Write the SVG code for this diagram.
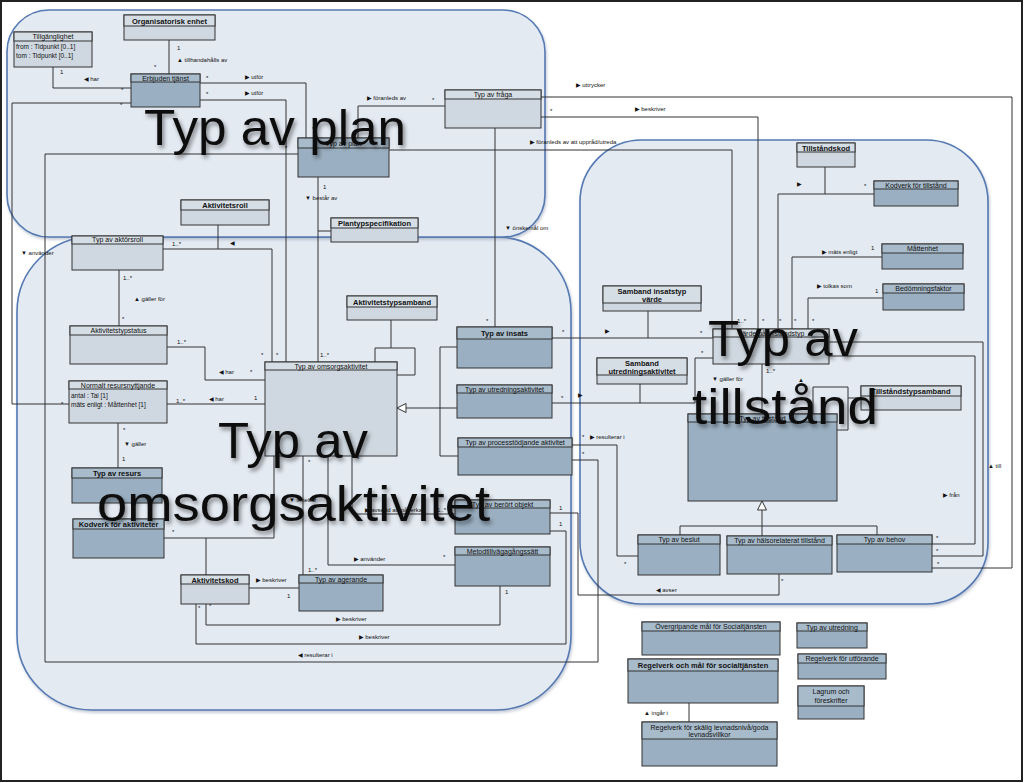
<svg xmlns="http://www.w3.org/2000/svg" width="1024" height="783" viewBox="0 0 1024 783">
<defs>
<style>
.reg{fill:#e4eaf2;stroke:#5479b3;stroke-width:1.6}
.nl{fill:#cfd8e0;stroke:#333;stroke-width:1}
.nd{fill:#9aafc1;stroke:#333;stroke-width:1}
.hl{fill:#d6dee5;stroke:#333;stroke-width:1}
.hd{fill:#a8bbcb;stroke:#333;stroke-width:1}
.t{font-family:"Liberation Sans","DejaVu Sans",sans-serif;font-size:7px;fill:#111;text-anchor:middle}
.b{font-weight:bold;font-size:7.5px}
.a{font-family:"Liberation Sans","DejaVu Sans",sans-serif;font-size:6.5px;fill:#111}
.lb{font-family:"Liberation Sans","DejaVu Sans",sans-serif;font-size:6px;fill:#111}
.c{fill:none;stroke:#333;stroke-width:1;stroke-linejoin:round}
.big{font-family:"Liberation Sans","Open Sans",sans-serif;font-size:50px;fill:#111}
</style>
<filter id="sh" x="-10%" y="-10%" width="120%" height="130%">
<feDropShadow dx="2" dy="3" stdDeviation="2" flood-color="#000" flood-opacity="0.45"/>
</filter>
<filter id="rs" x="-5%" y="-5%" width="110%" height="110%">
<feDropShadow dx="1" dy="2" stdDeviation="1.5" flood-color="#7d8aa0" flood-opacity="0.45"/>
</filter>
</defs>
<rect x="0" y="0" width="1024" height="783" fill="#fff"/>
<rect x="1" y="1" width="1021" height="780" fill="none" stroke="#222" stroke-width="2"/>

<g id="regions">
<rect class="reg" filter="url(#rs)" x="17" y="237" width="554" height="473" rx="75" ry="75"/>
<rect class="reg" filter="url(#rs)" x="7" y="10" width="538" height="227" rx="42" ry="42"/>
<rect class="reg" filter="url(#rs)" x="580" y="140" width="408" height="464" rx="62" ry="62"/>
</g>

<g id="connectors">
<path class="c" d="M169 40V74"/>
<path class="c" d="M53 67V88H131"/>
<path class="c" d="M200 83H306V138"/>
<path class="c" d="M200 100H286V362"/>
<path class="c" d="M131 103H12V404H69"/>
<path class="c" d="M298 154H45V662H598V460H572"/>
<path class="c" d="M318 177V362"/>
<path class="c" d="M318 231H331"/>
<path class="c" d="M445 106H358V138"/>
<path class="c" d="M495 128V327"/>
<path class="c" d="M541 117H758V329"/>
<path class="c" d="M389 150H732V329"/>
<path class="c" d="M541 97H1012V568H932"/>
<path class="c" d="M163 249H272V362"/>
<path class="c" d="M218 225V249"/>
<path class="c" d="M119 270V326"/>
<path class="c" d="M167 347H205V380H265"/>
<path class="c" d="M167 404H265"/>
<path class="c" d="M118 423V468"/>
<path class="c" d="M164 538H274V456"/>
<path class="c" d="M206 538V575"/>
<path class="c" d="M249 588H299"/>
<path class="c" d="M206 604V625H500V586"/>
<path class="c" d="M196 604V644H566V531H550"/>
<path class="c" d="M550 513H578V595H779V574"/>
<path class="c" d="M303 456V575"/>
<path class="c" d="M328 456V565H455"/>
<path class="c" d="M352 456V514H455"/>
<path class="c" d="M375 362V348H415V375H397"/>
<path class="c" d="M391 320V348"/>
<path class="c" d="M406 408H457M440 347V456M440 347H457M440 456H458"/>
<polygon points="397,408 406,403.5 406,412.5" fill="#fff" stroke="#333" stroke-width="1"/>
<path class="c" d="M552 338H713"/>
<path class="c" d="M648 311V338"/>
<path class="c" d="M552 403H695V358H713"/>
<path class="c" d="M640 384V403"/>
<path class="c" d="M572 445H617V556H638"/>
<path class="c" d="M874 194H778V329"/>
<path class="c" d="M825 167V194"/>
<path class="c" d="M882 257H792V329"/>
<path class="c" d="M883 298H808V329"/>
<path class="c" d="M762 364V414"/>
<path class="c" d="M829 342H983V556H932"/>
<path class="c" d="M829 356H975V544H932"/>
<path class="c" d="M813 414V387H848V430H837"/>
<path class="c" d="M848 398H861"/>
<path class="c" d="M762 510V536M680 535V526H877V535"/>
<polygon points="762,501 757.5,510 766.5,510" fill="#fff" stroke="#333" stroke-width="1"/>
<path class="c" d="M689 703V722"/>

<text class="lb" x="177" y="50">1</text>
<text class="lb" x="177" y="62">▲ tillhandahålls av</text>
<text class="lb" x="154" y="69">*</text>
<text class="lb" x="60" y="74">1</text>
<text class="lb" x="84" y="81">◀ har</text>
<text class="lb" x="121" y="92">*</text>
<text class="lb" x="206" y="80">*</text>
<text class="lb" x="245" y="79">▶ utför</text>
<text class="lb" x="312" y="131">*</text>
<text class="lb" x="206" y="96">*</text>
<text class="lb" x="245" y="95">▶ utför</text>
<text class="lb" x="120" y="107">*</text>
<text class="lb" x="285" y="150">*</text>
<text class="lb" x="367" y="100">▶ föranleds av</text>
<text class="lb" x="432" y="102">*</text>
<text class="lb" x="576" y="87">▶ uttrycker</text>
<text class="lb" x="550" y="113">*</text>
<text class="lb" x="635" y="111">▶ beskriver</text>
<text class="lb" x="530" y="144">▶ föranleds av att uppråd/utreda</text>
<text class="lb" x="323" y="189">1</text>
<text class="lb" x="305" y="200">▼ består av</text>
<text class="lb" x="505" y="230">▼ önskemål om</text>
<text class="lb" x="486" y="323">*</text>
<text class="lb" x="21" y="255">▼ använder</text>
<text class="lb" x="172" y="246">1..*</text>
<text class="lb" x="230" y="245">◀</text>
<text class="lb" x="123" y="280">1..*</text>
<text class="lb" x="134" y="301">▲ gäller för</text>
<text class="lb" x="122" y="321">*</text>
<text class="lb" x="177" y="344">1..*</text>
<text class="lb" x="219" y="374">◀ har</text>
<text class="lb" x="250" y="374">*</text>
<text class="lb" x="261" y="357">*</text>
<text class="lb" x="276" y="357">*</text>
<text class="lb" x="320" y="357">1..*</text>
<text class="lb" x="176" y="403">1..*</text>
<text class="lb" x="209" y="401">◀ har</text>
<text class="lb" x="254" y="400">1</text>
<text class="lb" x="61" y="406">*</text>
<text class="lb" x="123" y="432">*</text>
<text class="lb" x="124" y="446">▼ gäller</text>
<text class="lb" x="122" y="461">1</text>
<text class="lb" x="172" y="534">*</text>
<text class="lb" x="308" y="464">*</text>
<text class="lb" x="289" y="502">▼ innebär</text>
<text class="lb" x="357" y="461">*</text>
<text class="lb" x="365" y="512">▶ avsedd att påverka</text>
<text class="lb" x="437" y="512">1..*</text>
<text class="lb" x="354" y="561">▶ använder</text>
<text class="lb" x="443" y="559">*</text>
<text class="lb" x="308" y="572">1..*</text>
<text class="lb" x="256" y="582">▶ beskriver</text>
<text class="lb" x="287" y="598">1</text>
<text class="lb" x="198" y="610">*</text>
<text class="lb" x="209" y="608">*</text>
<text class="lb" x="336" y="621">▶ beskriver</text>
<text class="lb" x="505" y="594">1</text>
<text class="lb" x="359" y="639">▶ beskriver</text>
<text class="lb" x="298" y="657">◀ resulterar i</text>
<text class="lb" x="559" y="510">1</text>
<text class="lb" x="559" y="526">1</text>
<text class="lb" x="656" y="592">◀ avser</text>
<text class="lb" x="781" y="583">*</text>
<text class="lb" x="562" y="334">*</text>
<text class="lb" x="605" y="333">▶</text>
<text class="lb" x="561" y="400">*</text>
<text class="lb" x="578" y="397">▶</text>
<text class="lb" x="582" y="439">*</text>
<text class="lb" x="590" y="439">▶ resulterar i</text>
<text class="lb" x="582" y="456">*</text>
<text class="lb" x="624" y="566">*</text>
<text class="lb" x="712" y="381">▼ gäller för</text>
<text class="lb" x="766" y="373">1..*</text>
<text class="lb" x="797" y="186">▶</text>
<text class="lb" x="864" y="188">*</text>
<text class="lb" x="822" y="254">▶ mäts enligt</text>
<text class="lb" x="871" y="250">1</text>
<text class="lb" x="817" y="288">▶ tolkas som</text>
<text class="lb" x="875" y="293">1</text>
<text class="lb" x="737" y="323">1..*</text>
<text class="lb" x="762" y="323">*</text>
<text class="lb" x="779" y="323">*</text>
<text class="lb" x="794" y="323">*</text>
<text class="lb" x="812" y="323">*</text>
<text class="lb" x="700" y="335">*</text>
<text class="lb" x="701" y="355">*</text>
<text class="lb" x="798" y="382">▲</text>
<text class="lb" x="988" y="468">▲ till</text>
<text class="lb" x="943" y="497">▶ från</text>
<text class="lb" x="936" y="540">*</text>
<text class="lb" x="936" y="553">*</text>
<text class="lb" x="937" y="566">*</text>
<text class="lb" x="644" y="715">▲ ingår i</text>
</g>

<g id="n-org"><rect class="nl" x="124" y="15" width="91" height="25"/><rect class="hl" x="124" y="15" width="91" height="11"/><text class="t b" x="169.5" y="23.5">Organisatorisk enhet</text></g>
<g id="n-tillg"><rect class="nl" x="14" y="32" width="78" height="35"/><rect class="hl" x="14" y="32" width="78" height="9"/><text class="t" x="53" y="39">Tillgänglighet</text><text class="a" x="16" y="49">from : Tidpunkt [0..1]</text><text class="a" x="16" y="58">tom : Tidpunkt [0..1]</text></g>
<g id="n-erbj"><rect class="nd" x="131" y="74" width="69" height="33"/><rect class="hd" x="131" y="74" width="69" height="8"/><text class="t" x="165.5" y="80.5">Erbjuden tjänst</text></g>
<g id="n-typplan"><rect class="nd" x="298" y="138" width="91" height="39"/><rect class="hd" x="298" y="138" width="91" height="10"/><text class="t" x="343.5" y="145.5">Typ av plan</text></g>
<g id="n-fraga"><rect class="nl" x="445" y="90" width="96" height="38"/><rect class="hl" x="445" y="90" width="96" height="9"/><text class="t" x="493" y="97">Typ av fråga</text></g>
<g id="n-aktroll"><rect class="nl" x="181" y="200" width="88" height="25"/><rect class="hl" x="181" y="200" width="88" height="10"/><text class="t b" x="225" y="208">Aktivitetsroll</text></g>
<g id="n-planspec"><rect class="nl" x="331" y="218" width="87" height="24"/><rect class="hl" x="331" y="218" width="87" height="10"/><text class="t b" x="374.5" y="226">Plantypspecifikation</text></g>
<g id="n-aktorsroll"><rect class="nl" x="72" y="236" width="91" height="34"/><rect class="hl" x="72" y="236" width="91" height="8"/><text class="t" x="117.5" y="242">Typ av aktörsroll</text></g>
<g id="n-status"><rect class="nl" x="70" y="326" width="97" height="38"/><rect class="hl" x="70" y="326" width="97" height="9"/><text class="t" x="118.5" y="333">Aktivitetstypstatus</text></g>
<g id="n-resnytt"><rect class="nl" x="69" y="381" width="98" height="42"/><rect class="hl" x="69" y="381" width="98" height="8"/><text class="t" x="118" y="387.5">Normalt resursnyttjande</text><text class="a" x="71" y="398">antal : Tal [1]</text><text class="a" x="71" y="407">mäts enligt : Måttenhet [1]</text></g>
<g id="n-omsorg"><rect class="nl" x="265" y="362" width="132" height="94"/><rect class="hl" x="265" y="362" width="132" height="8"/><text class="t" x="331" y="368.5">Typ av omsorgsaktivitet</text></g>
<g id="n-samband"><rect class="nl" x="347" y="296" width="90" height="24"/><rect class="hl" x="347" y="296" width="90" height="11"/><text class="t b" x="392" y="304.5">Aktivitetstypsamband</text></g>
<g id="n-insats"><rect class="nd" x="457" y="327" width="95" height="41"/><rect class="hd" x="457" y="327" width="95" height="12"/><text class="t b" x="504.5" y="336">Typ av insats</text></g>
<g id="n-utredakt"><rect class="nd" x="457" y="385" width="95" height="33"/><rect class="hd" x="457" y="385" width="95" height="8"/><text class="t" x="504.5" y="391.5">Typ av utredningsaktivitet</text></g>
<g id="n-process"><rect class="nd" x="458" y="438" width="114" height="37"/><rect class="hd" x="458" y="438" width="114" height="9"/><text class="t" x="515" y="445">Typ av processtödjande aktivitet</text></g>
<g id="n-resurs"><rect class="nd" x="72" y="468" width="90" height="35"/><rect class="hd" x="72" y="468" width="90" height="10"/><text class="t b" x="117" y="476">Typ av resurs</text></g>
<g id="n-kodakt"><rect class="nd" x="73" y="519" width="91" height="39"/><rect class="hd" x="73" y="519" width="91" height="10"/><text class="t b" x="118.5" y="527">Kodverk för aktiviteter</text></g>
<g id="n-berort"><rect class="nd" x="455" y="500" width="95" height="34"/><rect class="hd" x="455" y="500" width="95" height="8"/><text class="t" x="502.5" y="506.5">Typ av berört objekt</text></g>
<g id="n-metod"><rect class="nd" x="455" y="547" width="95" height="39"/><rect class="hd" x="455" y="547" width="95" height="8"/><text class="t" x="502.5" y="553.5">Metodtillvägagångssätt</text></g>
<g id="n-aktkod"><rect class="nl" x="181" y="575" width="68" height="29"/><rect class="hl" x="181" y="575" width="68" height="9"/><text class="t b" x="215" y="582.5">Aktivitetskod</text></g>
<g id="n-agerande"><rect class="nd" x="299" y="575" width="84" height="36"/><rect class="hd" x="299" y="575" width="84" height="8"/><text class="t" x="341" y="581.5">Typ av agerande</text></g>
<g id="n-tkod"><rect class="nl" x="797" y="143" width="58" height="24"/><rect class="hl" x="797" y="143" width="58" height="9"/><text class="t b" x="826" y="150.5">Tillståndskod</text></g>
<g id="n-kodtill"><rect class="nd" x="874" y="181" width="84" height="25"/><rect class="hd" x="874" y="181" width="84" height="8"/><text class="t" x="916" y="187.5">Kodverk för tillstånd</text></g>
<g id="n-matt"><rect class="nd" x="882" y="244" width="81" height="25"/><rect class="hd" x="882" y="244" width="81" height="9"/><text class="t" x="922.5" y="251">Måttenhet</text></g>
<g id="n-bedom"><rect class="nd" x="883" y="284" width="81" height="26"/><rect class="hd" x="883" y="284" width="81" height="9"/><text class="t" x="923.5" y="291">Bedömningsfaktor</text></g>
<g id="n-sambins"><rect class="nl" x="603" y="286" width="98" height="25"/><rect class="hl" x="603" y="286" width="98" height="17"/><text class="t b" x="652" y="293.5">Samband insatstyp</text><text class="t b" x="652" y="301.5">värde</text></g>
<g id="n-varde"><rect class="nl" x="713" y="329" width="116" height="35"/><rect class="hl" x="713" y="329" width="116" height="8"/><text class="t" x="771" y="335.5">Värde på tillståndstyp</text></g>
<g id="n-sambutr"><rect class="nl" x="597" y="358" width="90" height="26"/><rect class="hl" x="597" y="358" width="90" height="17"/><text class="t b" x="642" y="365.5">Samband</text><text class="t b" x="642" y="373.5">utredningsaktivitet</text></g>
<g id="n-tsamb"><rect class="nl" x="861" y="386" width="100" height="24"/><rect class="hl" x="861" y="386" width="100" height="10"/><text class="t b" x="911" y="394">Tillståndstypsamband</text></g>
<g id="n-typtill"><rect class="nd" x="688" y="414" width="149" height="87"/><rect class="hd" x="688" y="414" width="149" height="8"/><text class="t" x="762.5" y="420.5">Typ av tillstånd</text></g>
<g id="n-beslut"><rect class="nd" x="638" y="535" width="82" height="40"/><rect class="hd" x="638" y="535" width="82" height="9"/><text class="t" x="679" y="542">Typ av beslut</text></g>
<g id="n-halsa"><rect class="nd" x="727" y="536" width="105" height="38"/><rect class="hd" x="727" y="536" width="105" height="9"/><text class="t" x="779.5" y="543">Typ av hälsorelaterat tillstånd</text></g>
<g id="n-behov"><rect class="nd" x="837" y="535" width="95" height="37"/><rect class="hd" x="837" y="535" width="95" height="9"/><text class="t" x="884.5" y="542">Typ av behov</text></g>
<g id="n-overgr"><rect class="nd" x="642" y="622" width="138" height="33"/><rect class="hd" x="642" y="622" width="138" height="9"/><text class="t" x="711" y="629">Övergripande mål för Socialtjänsten</text></g>
<g id="n-regmal"><rect class="nd" x="628" y="659" width="150" height="44"/><rect class="hd" x="628" y="659" width="150" height="12"/><text class="t b" x="703" y="667.5">Regelverk och mål för socialtjänsten</text></g>
<g id="n-regskal"><rect class="nd" x="642" y="722" width="135" height="44"/><rect class="hd" x="642" y="722" width="135" height="17"/><text class="t" x="709.5" y="729.5">Regelverk för skälig levnadsnivå/goda</text><text class="t" x="709.5" y="737">levnadsvillkor</text></g>
<g id="n-typutr"><rect class="nd" x="797" y="623" width="70" height="25"/><rect class="hd" x="797" y="623" width="70" height="8"/><text class="t" x="832" y="629.5">Typ av utredning</text></g>
<g id="n-regutf"><rect class="nd" x="798" y="654" width="88" height="25"/><rect class="hd" x="798" y="654" width="88" height="9"/><text class="t" x="842" y="661">Regelverk för utförande</text></g>
<g id="n-lagrum"><rect class="nd" x="798" y="686" width="66" height="33"/><rect class="hd" x="798" y="686" width="66" height="20"/><text class="t" x="831" y="694">Lagrum och</text><text class="t" x="831" y="702.5">föreskrifter</text></g>

<g id="big-labels" filter="url(#sh)">
<text class="big" x="144" y="145" textLength="262" lengthAdjust="spacingAndGlyphs">Typ av plan</text>
<text class="big" x="218" y="458" textLength="150" lengthAdjust="spacingAndGlyphs">Typ av</text>
<text class="big" x="97" y="521" textLength="393" lengthAdjust="spacingAndGlyphs">omsorgsaktivitet</text>
<text class="big" x="708" y="356" textLength="150" lengthAdjust="spacingAndGlyphs">Typ av</text>
<text class="big" x="692" y="424" textLength="186" lengthAdjust="spacingAndGlyphs">tillstånd</text>
</g>
</svg>
